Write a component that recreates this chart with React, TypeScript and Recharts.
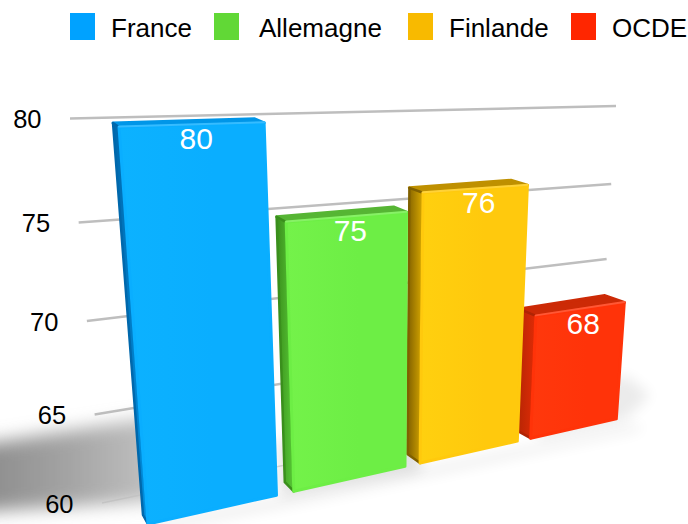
import React from "react";
import { ComposedChart, Bar, XAxis, YAxis, CartesianGrid, Legend, Customized } from "recharts";

const categories = ["France", "Allemagne", "Finlande", "OCDE"];
const values = [80, 75, 76, 68];
const yTicks = [60, 65, 70, 75, 80];
const legendX = [70, 214, 408, 571];
const legendTextX = [111, 259, 449, 612];
const swatchColors = ["#00A2FF", "#61D836", "#F8BA00", "#FF2600"];
const faceColors = ["#0AAEFF", "#6DEE45", "#FFC90D", "#FF3309"];
const faceLight = ["#0CB2FF", "#74F24A", "#FFD00F", "#FF380C"];
const sideColors = ["#0068AC", "#3A8F1C", "#806000", "#B02404"];
const sideLight = ["#0090E0", "#58C836", "#D8A800", "#E02C06"];
const topColors = ["#0096E8", "#56B534", "#BF9000", "#CC2A06"];

// drawn back to front: the axis is reversed so the first row falls on the right
const rows = categories.map((name, i) => ({ name, value: values[i], idx: i })).reverse();

const W = 688;
const H = 524;
const PLOT = { left: 60, top: 60, width: 600, height: 440 };
const BAND_GAP = 0.065;
const INSET = 0.25 * BAND_GAP;
const FONT = "'Liberation Sans', Arial, sans-serif";

type P = [number, number];
function homography(p0: P, p1: P, p2: P, p3: P) {
  const dx1 = p1[0] - p2[0], dx2 = p3[0] - p2[0], sx = p0[0] - p1[0] + p2[0] - p3[0];
  const dy1 = p1[1] - p2[1], dy2 = p3[1] - p2[1], sy = p0[1] - p1[1] + p2[1] - p3[1];
  const den = dx1 * dy2 - dx2 * dy1;
  const g = (sx * dy2 - dx2 * sy) / den;
  const h = (dx1 * sy - sx * dy1) / den;
  const a = p1[0] - p0[0] + g * p1[0], b = p3[0] - p0[0] + h * p3[0], c = p0[0];
  const d = p1[1] - p0[1] + g * p1[1], e = p3[1] - p0[1] + h * p3[1], f = p0[1];
  return (u: number, t: number): P => {
    const w = g * u + h * t + 1;
    return [(a * u + b * t + c) / w, (d * u + e * t + f) / w];
  };
}

const gridPlane = homography([70, 118.5], [616, 106], [598, 400], [102, 503]);
const frontPlane = homography([119, 127], [637, 112], [616, 419], [148, 524]);
const backPlane = homography([113, 123], [617, 108], [597, 410], [143, 515]);

const tOf = (y: number) => (y - PLOT.top) / PLOT.height;
const uOf = (x: number) => ((x - PLOT.left) / PLOT.width - INSET) / (1 - 2 * INSET);
const pts = (a: P[]) => a.map((p) => `${p[0].toFixed(1)},${p[1].toFixed(1)}`).join(" ");

function Bar3D(props: any) {
  const { x, y, width, payload } = props;
  const i = payload.idx;
  const u0 = uOf(x), u1 = uOf(x + width), t0 = tOf(y);
  const fTL = frontPlane(u0, t0), fTR = frontPlane(u1, t0), fBR = frontPlane(u1, 1), fBL = frontPlane(u0, 1);
  const bTL = backPlane(u0, t0), bTR = backPlane(u1, t0), bBL = backPlane(u0, 1);
  const mid = frontPlane((u0 + u1) / 2, t0);
  return (
    <g>
      <polygon points={pts([bTL, bTR, fTR, fTL])} fill={topColors[i]} stroke={topColors[i]} strokeWidth={3} strokeLinejoin="round" />
      <polygon points={pts([bTL, fTL, fBL, bBL])} fill={`url(#side${i})`} stroke={sideColors[i]} strokeWidth={2.5} strokeLinejoin="round" />
      <polygon points={pts([fTL, fTR, fBR, fBL])} fill={`url(#face${i})`} stroke={faceColors[i]} strokeWidth={3} strokeLinejoin="round" />
      <line x1={fTL[0]} y1={fTL[1] - 0.5} x2={fTR[0]} y2={fTR[1] - 0.5} stroke="#FFFFFF" strokeOpacity={0.18} strokeWidth={2} strokeLinecap="round" />
      <text x={mid[0] + 2} y={mid[1] + 14} textAnchor="middle" dominantBaseline="central" fontFamily={FONT} fontSize={30} fill="#FFFFFF">
        {payload.value}
      </text>
    </g>
  );
}

function GridLine(props: any) {
  const t = tOf(props.y1);
  const a = gridPlane(0, t), b = gridPlane(1, t);
  const base = t > 0.99;
  return <line x1={a[0]} y1={a[1]} x2={b[0]} y2={b[1]} stroke={base ? "#DEDEDE" : "#BEBEBE"} strokeWidth={base ? 1.5 : 2.5} />;
}

function YTick(props: any) {
  const t = tOf(props.y);
  const a = gridPlane(0, t);
  return (
    <text x={a[0] - 28.5} y={a[1] + 0.5} textAnchor="end" dominantBaseline="central" fontFamily={FONT} fontSize={25.5} fill="#000000">
      {props.payload.value}
    </text>
  );
}

function Scene() {
  return (
    <g>
      <defs>
        {faceColors.map((c, i) => (
          <linearGradient key={i} id={`face${i}`} x1="0" y1="0" x2="1" y2="0">
            <stop offset="0" stopColor={faceLight[i]} />
            <stop offset="0.6" stopColor={c} />
            <stop offset="1" stopColor={c} />
          </linearGradient>
        ))}
        {sideColors.map((c, i) => (
          <linearGradient key={i} id={`side${i}`} x1="0" y1="0" x2="1" y2="0">
            <stop offset="0" stopColor={c} />
            <stop offset="1" stopColor={sideLight[i]} />
          </linearGradient>
        ))}
        <linearGradient id="floorShade" x1="0" y1="0" x2="1" y2="0">
          <stop offset="0" stopColor="#808080" />
          <stop offset="0.55" stopColor="#A4A4A4" />
          <stop offset="1" stopColor="#C8C8C8" />
        </linearGradient>
        <filter id="soft" x="-30%" y="-60%" width="160%" height="220%">
          <feGaussianBlur stdDeviation="9" />
        </filter>
        <filter id="softer" x="-50%" y="-50%" width="200%" height="200%">
          <feGaussianBlur stdDeviation="7" />
        </filter>
      </defs>
      <polygon points="-60,451 170,415 175,500 -60,514" fill="url(#floorShade)" filter="url(#soft)" />
      <polygon points="280,440 420,410 420,470 280,495" fill="#000000" opacity={0.12} filter="url(#softer)" />
      <polygon points="530,420 625,375 650,395 625,420 540,438" fill="#000000" opacity={0.08} filter="url(#softer)" />
      <polygon points="150,524 290,496 640,424 640,430 300,503 160,530" fill="#000000" opacity={0.08} filter="url(#softer)" />
    </g>
  );
}

function LegendRow() {
  return (
    <div style={{ position: "relative", width: W, height: 50 }}>
      {categories.map((name, i) => (
        <React.Fragment key={name}>
          <span style={{ position: "absolute", left: legendX[i], top: 13, width: 25, height: 27, background: swatchColors[i] }} />
          <span style={{ position: "absolute", left: legendTextX[i], top: 14, fontFamily: FONT, fontSize: 26, lineHeight: "28px", color: "#000", whiteSpace: "nowrap" }}>
            {name}
          </span>
        </React.Fragment>
      ))}
    </div>
  );
}

export default function App() {
  return (
    <div style={{ position: "absolute", left: 0, top: 0, width: W, height: H, overflow: "hidden", background: "#fff" }}>
      <ComposedChart
        width={W}
        height={H}
        data={rows}
        margin={{ left: 0, top: PLOT.top, right: W - PLOT.left - PLOT.width, bottom: H - PLOT.top - PLOT.height }}
        barCategoryGap={`${BAND_GAP * 100}%`}
      >
        <Customized component={Scene} />
        <CartesianGrid vertical={false} horizontal={(p: any) => <GridLine key={p.y1} {...p} />} stroke="none" />
        <XAxis dataKey="name" type="category" reversed hide />
        <YAxis
          width={PLOT.left}
          domain={[60, 80]}
          ticks={yTicks}
          interval={0}
          axisLine={false}
          tickLine={false}
          tick={(p: any) => <YTick key={p.payload.value} {...p} />}
        />
        <Bar dataKey="value" isAnimationActive={false} shape={(p: any) => <Bar3D {...p} />} />
        <Legend layout="horizontal" verticalAlign="middle" wrapperStyle={{ top: 0, left: 0, width: W }} content={() => <LegendRow />} />
      </ComposedChart>
    </div>
  );
}
